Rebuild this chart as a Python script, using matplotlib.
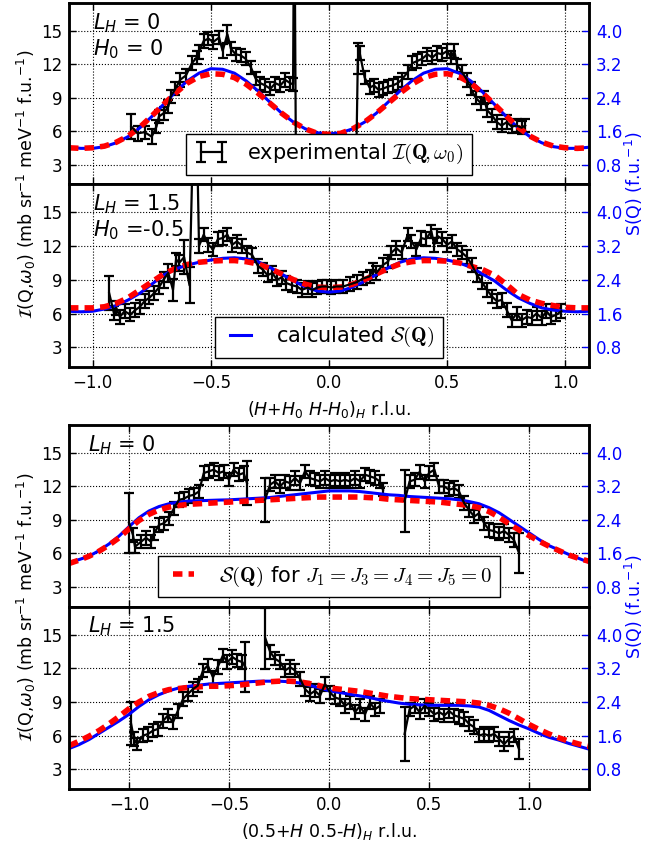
import numpy as np
import matplotlib
matplotlib.use('Agg')
from matplotlib import pyplot as plt
from matplotlib.font_manager import FontProperties
from matplotlib.lines import Line2D

plt.rcParams['mathtext.fontset'] = 'dejavusans'
plt.rcParams['xtick.direction'] = 'in'
plt.rcParams['ytick.direction'] = 'in'
plt.rcParams['xtick.top'] = True
plt.rcParams['font.size'] = 12

nan = np.nan

# ---- experimental data, top group (L_H=0,H0=0) ----
x1 = [-0.836, -0.81, -0.78, -0.75, -0.73, -0.72, -0.70, -0.68, -0.67, -0.65, -0.63, -0.605,
      -0.58, -0.56, -0.55, -0.53, -0.51, -0.49, -0.465, -0.45, -0.43, -0.415, -0.395, -0.374,
      -0.353, -0.33, -0.31, -0.29, -0.27, -0.248, -0.227, -0.206, -0.185, -0.164, -0.152,
      -0.147, -0.14, 0.115, 0.122, 0.13, 0.151, 0.172, 0.19, 0.21, 0.227, 0.25, 0.27, 0.29,
      0.307, 0.333, 0.353, 0.374, 0.395, 0.416, 0.437, 0.458, 0.479, 0.50, 0.517, 0.53, 0.543,
      0.563, 0.584, 0.60, 0.62, 0.643, 0.656, 0.668, 0.69, 0.71, 0.73, 0.752, 0.773, 0.794,
      0.815, 0.83]
y1 = [6.4, 5.8, 5.9, 5.5, 6.4, 7.3, 7.6, 8.2, 9.1, 9.8, 10.6, 11.0,
      12.1, 12.6, 13.1, 14.1, 14.3, 14.0, 14.4, 13.2, 14.7, 13.4, 12.9, 12.8,
      12.5, 11.7, 10.7, 10.3, 10.1, 9.8, 10.3, 10.1, 10.6, 10.3, 10.2,
      30.0, 3.0, 3.0, 12.5, 13.0, 10.8, 9.9, 10.1, 9.7, 9.8, 10.0, 10.1, 10.3,
      10.6, 11.3, 12.1, 12.3, 12.5, 12.9, 12.6, 13.0, 12.9, 13.2, 12.6, 13.2, 11.9,
      11.3, 10.6, 9.8, 9.0, 8.5, 9.0, 7.9, 7.4, 6.8, 6.5, 6.8, 6.4, 6.5,
      6.3, 6.5]
e1 = [1.1, 0.7, 0.6, 0.7, 0.6, 0.6, 0.6, 0.6, 0.6, 0.6, 0.6, 0.6,
      0.6, 0.6, 0.6, 0.6, 0.6, 0.6, 0.6, 0.6, 0.8, 0.6, 0.6, 0.6,
      0.6, 0.6, 0.6, 0.6, 0.6, 0.6, 0.6, 0.6, 0.6, 0.6, 0.6,
      0.6, 0.3, 0.3, 1.4, 0.6, 0.6, 0.6, 0.6, 0.6, 0.6, 0.6, 0.6, 0.6,
      0.6, 0.6, 0.6, 0.6, 0.6, 0.6, 0.6, 0.6, 0.6, 0.6, 0.6, 0.6, 0.6,
      0.6, 0.6, 0.6, 0.6, 0.6, 0.6, 0.6, 0.6, 0.6, 0.6, 0.6, 0.6, 0.6,
      0.6, 0.6]

# ---- (L_H=1.5, H0=-0.5) ----
x2 = [-0.93, -0.91, -0.90, -0.885, -0.865, -0.84, -0.82, -0.80, -0.78, -0.76, -0.74, -0.72,
      -0.70, -0.68, -0.66, -0.647, -0.634, -0.613, -0.59, -0.566, -0.55, -0.53, -0.51, -0.49,
      -0.47, -0.45, -0.43, -0.41, -0.39, -0.366, -0.345, -0.325, -0.30, -0.28, -0.26, -0.24,
      -0.22, -0.20, -0.18, -0.155, -0.135, -0.115, -0.09, -0.07, -0.05, -0.03, -0.01, 0.01,
      0.03, 0.06, 0.09, 0.12, 0.143, 0.172, 0.185, 0.20, 0.227, 0.25, 0.264, 0.285, 0.307,
      0.333, 0.349, 0.37, 0.39, 0.41, 0.433, 0.445, 0.458, 0.48, 0.50, 0.52, 0.542, 0.563,
      0.584, 0.605, 0.626, 0.647, 0.668, 0.69, 0.71, 0.73, 0.752, 0.773, 0.794, 0.815, 0.836,
      0.857, 0.878, 0.90, 0.92, 0.94, 0.962, 0.983]
y2 = [7.8, 6.05, 6.5, 5.7, 6.2, 5.9, 6.3, 6.6, 7.1, 7.4, 7.8, 8.3,
      9.0, 9.6, 8.1, 10.8, 10.5, 11.0, 8.5, 30.0, 12.0, 13.0, 12.1, 11.7,
      12.6, 12.7, 13.0, 12.1, 12.4, 12.0, 11.4, 11.2, 10.2, 9.9, 9.4, 9.6,
      9.0, 9.2, 8.7, 8.5, 8.4, 8.1, 8.3, 8.1, 8.3, 8.4, 8.4, 8.3,
      8.4, 8.4, 8.6, 8.8, 9.1, 9.3, 9.9, 9.6, 10.3, 10.6, 11.4, 11.8, 11.4,
      13.0, 12.4, 11.7, 12.7, 12.6, 13.3, 12.1, 12.9, 12.6, 12.1, 12.4, 11.7, 11.4,
      11.0, 10.3, 9.4, 8.8, 8.1, 7.5, 7.1, 7.2, 6.3, 5.4, 6.0, 5.4, 5.7,
      5.6, 6.0, 5.6, 6.2, 5.7, 5.9, 6.2]
e2 = [1.5, 0.6, 0.6, 0.6, 0.6, 0.6, 0.6, 0.6, 0.6, 0.6, 0.6, 0.6,
      0.7, 0.8, 1.0, 0.6, 0.7, 1.5, 1.6, 0.6, 0.6, 0.6, 0.6, 0.6,
      0.6, 0.6, 0.6, 0.6, 0.6, 0.6, 0.6, 0.6, 0.6, 0.6, 0.6, 0.6,
      0.6, 0.6, 0.6, 0.6, 0.6, 0.6, 0.6, 0.6, 0.6, 0.6, 0.6, 0.6,
      0.6, 0.6, 0.6, 0.6, 0.6, 0.6, 0.6, 0.6, 0.6, 0.6, 0.6, 0.6, 0.6,
      0.6, 0.6, 0.6, 0.6, 0.6, 0.6, 0.6, 0.6, 0.6, 0.6, 0.6, 0.6, 0.6,
      0.6, 0.6, 0.6, 0.6, 0.6, 0.6, 0.6, 0.6, 0.6, 0.6, 0.6, 0.6, 0.6,
      0.6, 0.6, 0.6, 0.6, 0.6, 0.6, 0.6]

# ---- bottom group, L_H=0 (nan = gap in the scan) ----
x3 = [-1.0, -0.98, -0.97, -0.94, -0.915, -0.89, -0.875, -0.85, -0.826, -0.80, -0.775, -0.75,
      -0.726, -0.70, -0.676, -0.65, -0.626, -0.60, -0.577, -0.55, -0.527, -0.50, -0.477, -0.45,
      -0.427, -0.41, -0.36, -0.32, -0.295, -0.27, -0.245, -0.22, -0.195, -0.17, -0.145, -0.12,
      -0.095, -0.07, -0.045, -0.02, 0.005, 0.03, 0.055, 0.08, 0.105, 0.13, 0.155, 0.18, 0.205,
      0.23, 0.254, 0.27, 0.33, 0.378, 0.403, 0.428, 0.453, 0.478, 0.50, 0.527, 0.55, 0.577,
      0.60, 0.626, 0.65, 0.676, 0.70, 0.726, 0.75, 0.776, 0.80, 0.826, 0.85, 0.876, 0.90,
      0.925, 0.95]
y3 = [8.75, 7.65, 6.6, 7.05, 7.4, 7.05, 7.8, 8.55, 8.7, 9.15, 10.05, 10.8,
      10.9, 11.15, 11.25, 11.55, 13.2, 13.35, 13.5, 13.2, 13.35, 12.6, 13.5, 13.05,
      13.2, 12.3, nan, 10.8, 12.15, 12.45, 12.0, 12.45, 12.3, 12.75, 12.3, 13.35,
      12.75, 12.6, 12.45, 12.75, 12.45, 12.6, 12.45, 12.6, 12.45, 12.75, 12.45, 13.05, 12.9,
      12.75, 12.45, 11.7, nan, 10.7, 12.45, 12.6, 13.3, 12.45, 13.2, 13.5, 12.0, 12.0,
      11.7, 11.85, 11.55, 10.5, 9.9, 9.3, 9.6, 8.7, 8.1, 8.0, 7.8, 8.0, 7.65,
      7.2, 6.05]
e3 = [2.7, 0.6, 0.6, 0.6, 0.6, 0.6, 0.6, 0.6, 0.6, 0.6, 0.6, 0.6,
      0.6, 0.6, 0.6, 0.6, 0.6, 0.6, 0.6, 0.6, 0.6, 0.6, 0.6, 0.6,
      0.6, 2.0, 0.0, 1.95, 0.6, 0.6, 0.6, 0.6, 0.6, 0.6, 0.6, 0.6,
      0.6, 0.6, 0.6, 0.6, 0.6, 0.6, 0.6, 0.6, 0.6, 0.6, 0.6, 0.6, 0.6,
      0.6, 0.6, 0.6, 0.0, 2.8, 0.6, 0.6, 0.6, 0.6, 0.6, 0.6, 0.6, 0.6,
      0.6, 0.6, 0.6, 0.6, 0.6, 0.6, 0.6, 0.6, 0.6, 0.6, 0.6, 0.6, 0.6,
      0.6, 1.8]

# ---- bottom group, L_H=1.5 ----
x4 = [-0.99, -0.975, -0.96, -0.93, -0.905, -0.88, -0.855, -0.83, -0.806, -0.78, -0.756, -0.73,
      -0.706, -0.68, -0.656, -0.63, -0.606, -0.58, -0.557, -0.53, -0.508, -0.483, -0.458, -0.433,
      -0.418, -0.37, -0.318, -0.294, -0.27, -0.244, -0.22, -0.194, -0.17, -0.144, -0.12, -0.094,
      -0.07, -0.045, -0.02, 0.005, 0.03, 0.055, 0.08, 0.105, 0.13, 0.155, 0.18, 0.204, 0.23,
      0.254, 0.32, 0.378, 0.403, 0.428, 0.453, 0.478, 0.50, 0.527, 0.552, 0.577, 0.60, 0.627,
      0.652, 0.677, 0.70, 0.726, 0.75, 0.776, 0.80, 0.826, 0.85, 0.876, 0.90, 0.925, 0.95]
y4 = [7.1, 5.7, 5.25, 6.0, 6.15, 6.45, 6.6, 7.3, 7.8, 7.2, 8.2, 9.25,
      9.7, 10.15, 10.45, 11.8, 12.25, 11.2, 12.1, 13.15, 12.55, 13.0, 12.7, 12.55,
      12.1, nan, 14.65, 13.45, 12.85, 12.55, 11.8, 12.1, 11.8, 11.05, 10.15, 9.7,
      10.0, 9.55, 10.6, 9.85, 9.4, 9.25, 8.65, 8.95, 8.1, 8.65, 7.9, 8.95, 8.35,
      8.65, nan, 6.15, 8.35, 8.65, 8.1, 8.65, 8.35, 7.9, 8.1, 7.8, 8.2, 7.8,
      7.65, 7.5, 7.05, 6.75, 6.0, 6.15, 6.0, 6.15, 5.7, 5.25, 5.7, 6.0, 4.8]
e4 = [1.9, 0.6, 0.5, 0.6, 0.6, 0.6, 0.6, 0.6, 0.6, 0.6, 0.6, 0.6,
      0.6, 0.6, 0.6, 0.6, 0.6, 0.6, 0.6, 0.6, 0.6, 0.6, 0.6, 0.6,
      2.2, 0.0, 2.7, 0.6, 0.6, 0.6, 0.6, 0.6, 0.6, 0.6, 0.6, 0.6,
      0.6, 0.6, 0.6, 0.6, 0.6, 0.6, 0.6, 0.6, 0.6, 0.6, 0.6, 0.6, 0.6,
      0.6, 0.0, 2.4, 0.6, 0.6, 0.6, 0.6, 0.6, 0.6, 0.6, 0.6, 0.6, 0.6,
      0.6, 0.6, 0.6, 0.6, 0.6, 0.6, 0.6, 0.6, 0.6, 0.6, 0.6, 0.6, 0.9]

# ---- calculated S(Q) curves (read every 0.05 r.l.u.) ----
xc_top = np.round(np.arange(-1.1, 1.1001, 0.05), 2)
xc_bot = np.round(np.arange(-1.3, 1.3001, 0.05), 2)

blue1 = [4.55, 4.45, 4.45, 4.6, 4.95, 5.5, 6.3, 7.3, 8.4, 9.5, 10.5, 11.2, 11.6, 11.55, 11.2,
         10.5, 9.6, 8.6, 7.6, 6.8, 6.2, 5.85, 5.75, 5.85, 6.2, 6.8, 7.6, 8.6, 9.6, 10.5,
         11.2, 11.55, 11.6, 11.2, 10.5, 9.5, 8.4, 7.3, 6.3, 5.5, 4.95, 4.6, 4.45, 4.45, 4.55]
red1 = [4.5, 4.45, 4.5, 4.65, 5.0, 5.55, 6.35, 7.35, 8.4, 9.4, 10.3, 10.9, 11.15, 11.1, 10.8,
        10.2, 9.4, 8.5, 7.6, 6.8, 6.2, 5.8, 5.7, 5.8, 6.2, 6.8, 7.6, 8.5, 9.4, 10.2,
        10.8, 11.1, 11.15, 10.9, 10.3, 9.4, 8.4, 7.35, 6.35, 5.55, 5.0, 4.65, 4.5, 4.45, 4.5]

blue2 = [6.2, 6.15, 6.2, 6.4, 6.7, 7.2, 7.8, 8.6, 9.4, 9.95, 10.3, 10.55, 10.75, 10.9, 10.95,
         10.85, 10.6, 10.1, 9.5, 8.9, 8.35, 8.0, 7.9, 8.0, 8.35, 8.85, 9.45, 10.05, 10.55, 10.85,
         10.95, 10.9, 10.75, 10.5, 10.1, 9.5, 8.9, 8.1, 7.4, 6.9, 6.5, 6.3, 6.2, 6.15, 6.2]
red2 = [6.5, 6.5, 6.5, 6.6, 6.9, 7.4, 8.1, 8.8, 9.5, 10.0, 10.35, 10.55, 10.65, 10.7, 10.7,
        10.6, 10.4, 10.0, 9.5, 9.0, 8.6, 8.35, 8.3, 8.35, 8.6, 9.0, 9.5, 10.0, 10.4, 10.6,
        10.7, 10.7, 10.65, 10.5, 10.2, 9.9, 9.4, 8.6, 7.7, 7.2, 6.9, 6.7, 6.55, 6.5, 6.5]

blue3 = [5.2, 5.45, 5.75, 6.25, 6.85, 7.55, 8.4, 9.2, 9.8, 10.2, 10.45, 10.6, 10.7, 10.72,
         10.75, 10.78, 10.8, 10.85, 10.9, 10.95, 11.0, 11.1, 11.2, 11.3, 11.4, 11.5, 11.6,
         11.6, 11.6, 11.55, 11.45, 11.35, 11.25, 11.2, 11.1, 11.05, 11.0, 10.95, 10.9, 10.8,
         10.65, 10.45, 10.1, 9.65, 9.05, 8.45, 7.85, 7.25, 6.7, 6.3, 5.9, 5.55, 5.2]
red3 = [5.1, 5.4, 5.75, 6.2, 6.75, 7.4, 8.2, 8.95, 9.5, 9.9, 10.15, 10.3, 10.4, 10.45, 10.5,
        10.55, 10.6, 10.65, 10.7, 10.75, 10.8, 10.85, 10.9, 10.95, 11.0, 11.05, 11.05, 11.05,
        11.05, 11.05, 11.0, 10.95, 10.85, 10.8, 10.75, 10.7, 10.65, 10.6, 10.5, 10.4, 10.3,
        10.1, 9.75, 9.25, 8.65, 8.1, 7.6, 7.1, 6.65, 6.25, 5.85, 5.55, 5.3]

blue4 = [4.85, 5.2, 5.65, 6.2, 6.75, 7.3, 7.9, 8.6, 9.2, 9.65, 10.0, 10.25, 10.4, 10.5, 10.6,
         10.65, 10.7, 10.75, 10.8, 10.85, 10.85, 10.85, 10.8, 10.7, 10.5, 10.25, 10.0, 9.85,
         9.7, 9.55, 9.4, 9.2, 9.05, 8.9, 8.8, 8.75, 8.7, 8.7, 8.7, 8.7, 8.65, 8.55, 8.25, 7.8,
         7.35, 6.95, 6.6, 6.2, 5.85, 5.6, 5.3, 5.05, 4.8]
red4 = [5.1, 5.5, 5.95, 6.45, 7.05, 7.7, 8.4, 9.0, 9.5, 9.85, 10.1, 10.2, 10.3, 10.35, 10.4,
        10.4, 10.45, 10.5, 10.6, 10.7, 10.8, 10.85, 10.85, 10.8, 10.65, 10.45, 10.25, 10.15,
        10.05, 9.95, 9.8, 9.65, 9.5, 9.4, 9.3, 9.25, 9.2, 9.15, 9.1, 9.05, 9.0, 8.9, 8.7, 8.4,
        8.0, 7.5, 7.0, 6.55, 6.15, 5.8, 5.5, 5.25, 5.05]

notes = [r'$L_H$ = 0' + '\n' + r'$H_0$ = 0',
         r'$L_H$ = 1.5' + '\n' + r'$H_0$ =-0.5',
         r'$L_H$ = 0',
         r'$L_H$ = 1.5']

ylo, yhi = 1.25, 17.5
ylabel = r'$\mathcal{I}$(Q,$\omega_0$) (mb sr$^{-1}$ meV$^{-1}$ f.u.$^{-1}$)'
rlabel = r'S(Q) (f.u.$^{-1}$)'

W, H = 667.0, 844.0
fig = plt.figure(figsize=(W / 100, H / 100), dpi=100)
fig.patch.set_facecolor('white')

# axes boxes in pixels: (top, bottom)
boxes = [(3, 184), (184, 367), (425, 606.5), (606.5, 789)]
L, R = 69, 589

legfont = FontProperties(size=15, math_fontfamily='cm')
dash = (0, (1.7, 1.1))

panels = [(x1, y1, e1, xc_top, blue1, red1, (-1.1, 1.1)),
          (x2, y2, e2, xc_top, blue2, red2, (-1.1, 1.1)),
          (x3, y3, e3, xc_bot, blue3, red3, (-1.3, 1.3)),
          (x4, y4, e4, xc_bot, blue4, red4, (-1.3, 1.3))]

axes = []
handles = []
for i, (t, b) in enumerate(boxes):
    ax = fig.add_axes([L / W, 1 - b / H, (R - L) / W, (b - t) / H])
    axes.append(ax)
    xd, yd, ed, xc, bl, rd, xl = panels[i]
    eb = ax.errorbar(xd, yd, yerr=ed, color='k', lw=1.6, capsize=3.5, capthick=1.6)
    handles.append(eb)
    ax.plot(xc, bl, color='b', lw=2.2)
    ax.plot(xc, rd, color='r', lw=4, linestyle=dash)
    ax.set_xlim(*xl)
    ax.set_ylim(ylo, yhi)
    ax.set_yticks([3, 6, 9, 12, 15])
    ax.set_xticks([-1.0, -0.5, 0.0, 0.5, 1.0])
    ax.grid(True, color='k', linestyle=':', lw=0.8)
    ax.tick_params(axis='both', labelsize=12, length=5, width=1, pad=5)
    for s in ax.spines.values():
        s.set_linewidth(1.8)
    nx = 0.046 if i < 2 else 0.037
    ax.text(nx, 0.955, notes[i], transform=ax.transAxes, ha='left', va='top',
            fontsize=15, linespacing=1.15)

    tw = ax.twinx()
    tw.set_ylim(ylo * 4 / 15, yhi * 4 / 15)
    tw.set_yticks([0.8, 1.6, 2.4, 3.2, 4.0])
    tw.tick_params(axis='y', colors='b', labelcolor='b', labelsize=12, length=5,
                   width=1, pad=5, direction='in')
    for s in tw.spines.values():
        s.set_linewidth(1.8)

axes[0].tick_params(labelbottom=False)
axes[2].tick_params(labelbottom=False)

axes[1].set_xlabel(r'$(H$+$H_0$ $H$-$H_0)_H$ r.l.u.', fontsize=12.5, labelpad=5)
axes[3].set_xlabel(r'(0.5+$H$ 0.5-$H)_H$ r.l.u.', fontsize=12.5, labelpad=5)

for ax, handle, lab in [
        (axes[0], handles[0], r'experimental $\mathcal{I}(\mathbf{Q}\!,\omega_0)$'),
        (axes[1], Line2D([], [], color='b', lw=2.2), r'calculated $\mathcal{S}(\mathbf{Q})$'),
        (axes[2], Line2D([], [], color='r', lw=4, linestyle=dash),
         r'$\mathcal{S}(\mathbf{Q})$ for $J_1=J_3=J_4=J_5=0$')]:
    lg = ax.legend([handle], [lab], loc='lower center', prop=legfont, numpoints=2,
                   fancybox=False, framealpha=1, edgecolor='k', handlelength=1.6,
                   handletextpad=0.9, borderpad=0.4, borderaxespad=0.45)
    lg.get_frame().set_linewidth(1.0)

for yc in (184, 607):
    fig.text(26 / W, 1 - yc / H, ylabel, rotation=90, ha='center', va='center', fontsize=12.5)
    fig.text(634 / W, 1 - yc / H, rlabel, rotation=90, ha='center', va='center',
             fontsize=12.5, color='b')

fig.savefig('out.png', dpi=100, facecolor='white')
